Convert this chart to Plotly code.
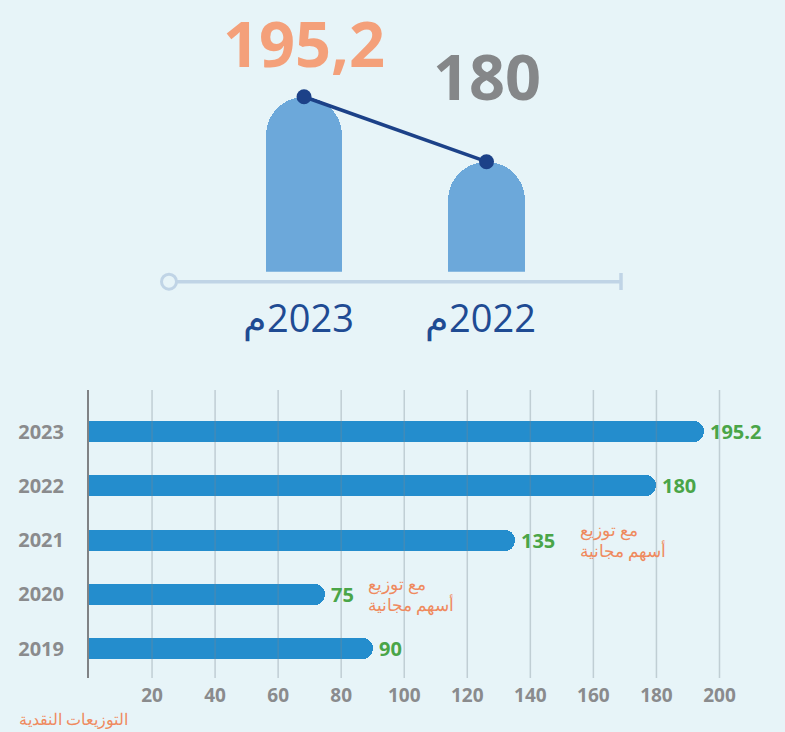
import plotly.graph_objects as go

# ---------------- data ----------------
years = ["2019", "2020", "2021", "2022", "2023"]
dividends = [90, 75, 135, 180, 195.2]
value_labels = ["90", "75", "135", "180", "195.2"]
x_ticks = [20, 40, 60, 80, 100, 120, 140, 160, 180, 200]

top_years = ["2023", "2022"]
top_values = [195.2, 180]
top_value_labels = ["195,2", "180"]
top_year_labels = ["م\u200e2023", "م\u200e2022"]

note_years = ["2021", "2020"]
note_text = "مع توزيع<br>أسهم مجانية"
footer_text = "التوزيعات النقدية"

# ---------------- styles ----------------
BG = "#E7F4F8"
BAR_BLUE = "#248DCD"
TOP_BAR = "#6CA8DA"
NAVY = "#1C4188"
GREEN = "#4AA548"
GRAY = "#8A8B8D"
ORANGE = "#EF8A5E"
SALMON = "#F4A07A"
AXIS_LIGHT = "#C0D4E6"
W, H = 785, 732
FONT = "Open Sans"

def py(p):  # pixel row -> paper y
    return 1 - p / H

fig = go.Figure()

# ---------- bottom horizontal bars ----------
fig.add_trace(go.Bar(
    x=dividends, y=years, orientation="h",
    marker=dict(color=BAR_BLUE, cornerradius="50%", line=dict(width=0)),
    width=0.387, xaxis="x", yaxis="y", hoverinfo="skip",
))

# ---------- top vertical bars ----------
fig.add_trace(go.Bar(
    x=top_years, y=top_values,
    marker=dict(color=TOP_BAR, cornerradius="50%", line=dict(width=0)),
    width=0.418, xaxis="x2", yaxis="y2", hoverinfo="skip",
))
fig.add_trace(go.Scatter(
    x=top_years, y=top_values, mode="lines+markers",
    line=dict(color=NAVY, width=3.5),
    marker=dict(color=NAVY, size=15),
    xaxis="x2", yaxis="y2", cliponaxis=False, hoverinfo="skip",
))

annotations = []
# value labels bottom
for y, v, t in zip(years, dividends, value_labels):
    annotations.append(dict(
        x=v, y=years.index(y), xref="x", yref="y", text=f"<b>{t}</b>",
        showarrow=False, xanchor="left", yanchor="middle", xshift=4,
        font=dict(family=FONT, size=20, color=GREEN),
    ))
# notes
note_x = {"2021": 155, "2020": 88}
for ny in note_years:
    annotations.append(dict(
        x=note_x[ny], y=years.index(ny), xref="x", yref="y", text=note_text,
        showarrow=False, xanchor="left", yanchor="middle", align="left",
        font=dict(family=FONT, size=16.5, color=ORANGE),
    ))
# footer
annotations.append(dict(
    x=17 / W, y=py(719), xref="paper", yref="paper", text=footer_text,
    showarrow=False, xanchor="left", yanchor="middle",
    font=dict(family=FONT, size=16, color=ORANGE),
))
# big top numbers
annotations.append(dict(
    x=0, y=1, xref="x2", yref="paper", text=f"<b>{top_value_labels[0]}</b>",
    showarrow=False, xanchor="center", yanchor="top", yshift=2,
    font=dict(family=FONT, size=63, color=SALMON),
))
annotations.append(dict(
    x=1, y=py(75), xref="x2", yref="paper", text=f"<b>{top_value_labels[1]}</b>",
    showarrow=False, xanchor="center", yanchor="middle",
    font=dict(family=FONT, size=63, color="#858789"),
))
# top year labels
for i, lab in enumerate(top_year_labels):
    annotations.append(dict(
        x=i, y=py(317), xref="x2", yref="paper", text=lab, showarrow=False,
        xanchor="center", yanchor="middle", xshift=-6,
        font=dict(family=FONT, size=38, color="#1F4B93"),
    ))

shapes = []
# vertical gridlines above bars
for t in x_ticks:
    shapes.append(dict(
        type="line", xref="x", yref="y domain", x0=t, x1=t, y0=0, y1=1,
        line=dict(color="rgba(120,135,145,0.35)", width=1.5), layer="above",
    ))
# top axis line
ay = py(281.7)
shapes.append(dict(type="line", xref="x2 domain", yref="paper", x0=0, x1=1,
                   y0=ay, y1=ay, line=dict(color=AXIS_LIGHT, width=3.5)))
shapes.append(dict(type="line", xref="x2 domain", yref="paper", x0=1, x1=1,
                   y0=py(273), y1=py(290), line=dict(color=AXIS_LIGHT, width=3.5)))
shapes.append(dict(type="circle", xref="x2 domain", yref="paper",
                   xsizemode="pixel", ysizemode="pixel", xanchor=0, yanchor=ay,
                   x0=-7.5, x1=7.5, y0=-7.5, y1=7.5,
                   line=dict(color=AXIS_LIGHT, width=3), fillcolor=BG))

fig.update_layout(
    width=W, height=H, margin=dict(l=0, r=0, t=0, b=0),
    paper_bgcolor=BG, plot_bgcolor="rgba(0,0,0,0)", showlegend=False,
    bargap=0,
    xaxis=dict(domain=[89 / W, 751 / W], range=[0, 210], anchor="y",
               tickvals=x_ticks, showgrid=False, zeroline=False, showline=False,
               tickfont=dict(family=FONT, size=19, color=GRAY, weight="bold"),
               ticks="", ticklabelstandoff=4),
    yaxis=dict(domain=[py(678), py(390)], range=[-0.538, 4.766], anchor="x",
               type="category", categoryorder="array", categoryarray=years,
               showgrid=False, zeroline=False, showline=True,
               linecolor="#808285", linewidth=2, ticks="",
               tickfont=dict(family=FONT, size=20, color=GRAY, weight="bold"),
               ticklabelstandoff=19),
    xaxis2=dict(domain=[169 / W, 621 / W], range=[-0.740, 1.737], anchor="y2",
                type="category", categoryorder="array", categoryarray=top_years,
                showgrid=False, zeroline=False, showline=False,
                showticklabels=False, ticks=""),
    yaxis2=dict(domain=[py(271.7), py(70)], range=[154.28, 201.45], anchor="x2",
                showgrid=False, zeroline=False, showline=False,
                showticklabels=False, ticks=""),
    annotations=annotations, shapes=shapes,
)

fig.write_html("out.html", config={"displayModeBar": False},
               post_script="document.body.style.margin='0';document.body.style.background='%s';" % BG)
